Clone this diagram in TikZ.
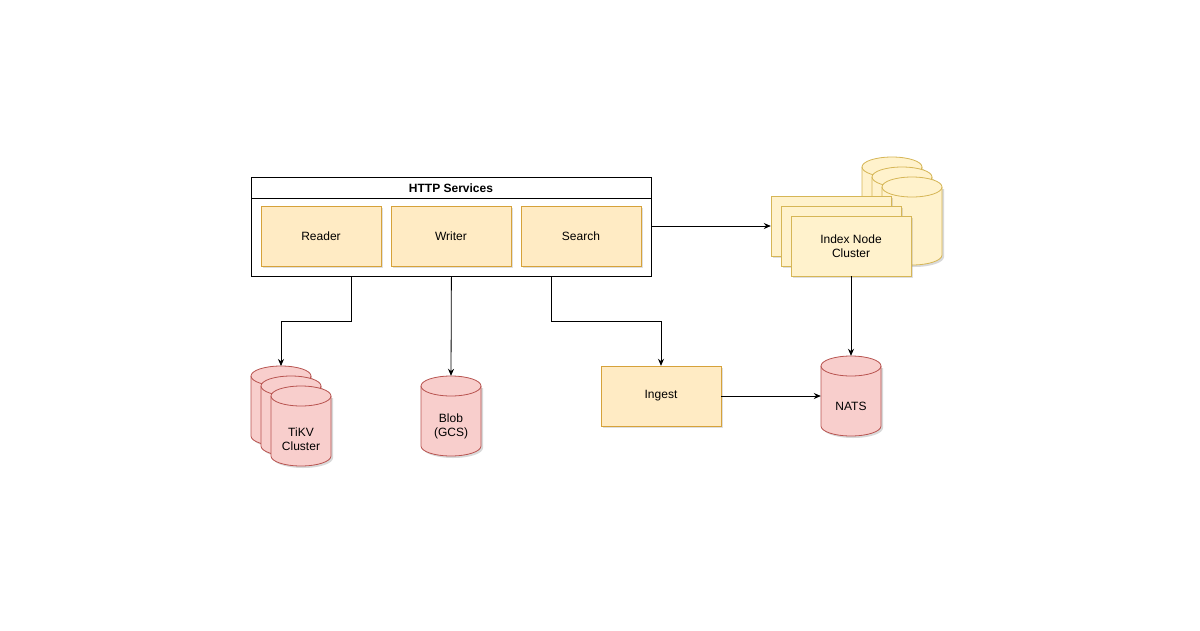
\documentclass[tikz,border=0pt]{standalone}
\usepackage{fontspec}
\setmainfont{Liberation Sans}
\usetikzlibrary{arrows.meta,shadows}
\definecolor{yfill}{HTML}{FFF2CC}
\definecolor{ydraw}{HTML}{D6B656}
\definecolor{ofill}{HTML}{FFEBC4}
\definecolor{odraw}{HTML}{D6A23A}
\definecolor{rfill}{HTML}{F8CECC}
\definecolor{rdraw}{HTML}{B85450}
\tikzset{
 txt/.style={font=\fontsize{12}{14}\selectfont, align=center},
 box/.style={txt, draw=odraw, fill=ofill, minimum width=120, minimum height=60, inner sep=0, drop shadow={opacity=0.25,shadow xshift=2pt,shadow yshift=-2pt}},
 ybox/.style={box, draw=ydraw, fill=yfill},
 lbl/.style={txt, minimum width=60, minimum height=80, inner sep=0},
 arr/.style={-{Stealth[length=7pt,width=6pt]}, line width=0.8pt},
}
% #1 x, #2 y (top), #3 w, #4 h, #5 fill, #6 draw
\newcommand\mycyl[6]{%
 \fill[black,opacity=0.15] (#1+2,#2+12) -- (#1+2,#4+#2-8) arc[start angle=180,end angle=0,x radius=#3/2,y radius=10] -- (#1+#3+2,#2+12) -- cycle;
 \draw[fill=#5,draw=#6,line width=0.8pt] (#1,#2+10) -- (#1,#2+#4-10) arc[start angle=180,end angle=0,x radius=#3/2,y radius=10] -- (#1+#3,#2+10) arc[start angle=0,end angle=-180,x radius=#3/2,y radius=10] -- cycle;
 \draw[draw=#6,line width=0.8pt] (#1,#2+10) arc[start angle=180,end angle=0,x radius=#3/2,y radius=10];
}
\begin{document}
\begin{tikzpicture}[x=1pt,y=-1pt]
\useasboundingbox[fill=white] (0,0) rectangle (1200,630);
% HTTP services
\node[draw, line width=0.8pt, fill=white, minimum width=400, minimum height=99, inner sep=0, anchor=north west] (http) at (251,177) {};
\draw[line width=0.8pt] (251,198) -- (651,198);
\node[txt, font=\fontsize{12}{14}\selectfont\bfseries] (httpt) at (451,188) {HTTP Services};
\node[box] (reader) at (321,236) {Reader};
\node[box] (writer) at (451,236) {Writer};
\node[box] (search) at (581,236) {Search};
% Index node cluster
\mycyl{862}{157}{60}{88}{yfill}{ydraw}
\mycyl{872}{167}{60}{88}{yfill}{ydraw}
\mycyl{882}{177}{60}{88}{yfill}{ydraw}
\node[ybox] (i1) at (831,226) {};
\node[ybox] (i2) at (841,236) {};
\node[ybox] (index) at (851,246) {Index Node\\Cluster};
% NATS
\mycyl{821}{356}{60}{80}{rfill}{rdraw}
\node[lbl] (nats) at (851,396) {};
\node[txt] (natst) at (851,406) {NATS};
% Ingest
\node[box] (ingest) at (661,396) {Ingest};
% TiKV
\mycyl{251}{366}{60}{80}{rfill}{rdraw}
\mycyl{261}{376}{60}{80}{rfill}{rdraw}
\mycyl{271}{386}{60}{80}{rfill}{rdraw}
\node[lbl] (tikv) at (301,426) {};
\node[txt] (tikvt) at (301,439) {TiKV\\Cluster};
\coordinate (tikvtop) at (281,366);
% Blob
\mycyl{421}{376}{60}{80}{rfill}{rdraw}
\node[lbl] (blob) at (451,416) {};
\node[txt] (blobt) at (451,426) {Blob\\(GCS)};
% connectors
\draw[arr] (http.east |- i1) -- (i1.west);
\draw[arr] (index.south) -- (nats.north);
\draw[arr] (ingest.east) -- (nats.west);
\draw[arr] ([xshift=100]http.south) -- ++(0,45) -| (ingest.north);
\draw[arr] ([xshift=-100]http.south) -- ++(0,45) -| (tikvtop);
\draw[arr] (http.south) -- (blob.north);
\end{tikzpicture}
\end{document}
